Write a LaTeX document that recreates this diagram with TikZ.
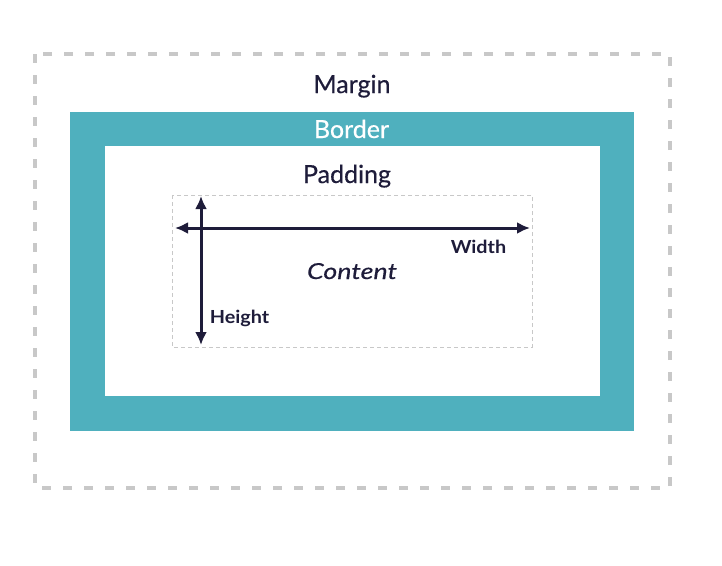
\documentclass[tikz,border=0pt]{standalone}
\usepackage{fontspec}
\setmainfont{Lato}[FakeBold=0.4]
\newfontfamily\labelfont[FakeBold=0.5]{Lato}
\newfontfamily\contentfont[FakeStretch=1.22,FakeBold=0.4]{Lato Italic}
\newfontfamily\dimfont[FakeStretch=1.1]{Lato Bold}
\usetikzlibrary{arrows.meta}
\definecolor{teal1}{HTML}{4FB0BE}
\definecolor{ink}{HTML}{1E1C3A}
\definecolor{dashgray}{HTML}{C8C8C8}
\tikzset{
  lbl/.style={text=ink, font=\fontsize{25}{28}\selectfont\labelfont, inner sep=0pt, anchor=base},
  small/.style={text=ink, font=\fontsize{18}{20}\selectfont\dimfont, inner sep=0pt, anchor=base},
  dim/.style={draw=ink, line width=3pt, {Latex[length=13pt,width=12pt]}-{Latex[length=13pt,width=12pt]}},
}
\begin{document}
\begin{tikzpicture}[x=1pt,y=-1pt]
\useasboundingbox (0,0) rectangle (722,565);
\fill[white] (0,0) rectangle (722,565);
% margin
\draw[dashgray, line width=4pt, dash pattern=on 9pt off 12pt] (35,54) rectangle (670,488);
% border
\fill[teal1] (70,112) rectangle (634,431);
\fill[white] (105,146) rectangle (600,396);
% content
\draw[dashgray, line width=1pt, dash pattern=on 4pt off 3pt] (172,195) rectangle (532,347);
\node[lbl] (margin) at (352,93) {Margin};
\node[lbl, text=white] (border) at (351.5,138) {Border};
\node[lbl] (padding) at (347,183) {Padding};
\node[lbl, font=\fontsize{22}{24}\selectfont\contentfont] (content) at (352,279) {Content};
\coordinate (wl) at (175,228);
\coordinate (wr) at (530,228);
\coordinate (ht) at (201,196);
\coordinate (hb) at (201,345);
\draw[dim] (wl) -- (wr);
\draw[dim] (ht) -- (hb);
\node[small] (width) at (478.5,253) {Width};
\node[small] (height) at (239.5,323) {Height};
\end{tikzpicture}
\end{document}
